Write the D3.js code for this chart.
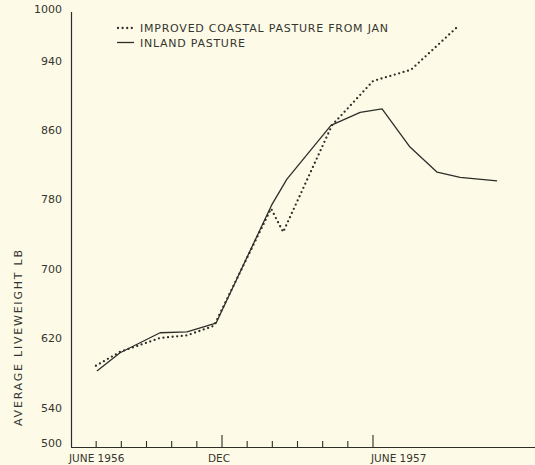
<!DOCTYPE html>
<html>
<head>
<meta charset="utf-8">
<script src="https://cdn.jsdelivr.net/npm/d3@7"></script>
<style>
  html, body { margin: 0; padding: 0; background: #fdfbe7; }
  svg { display: block; }
  text { font-family: "DejaVu Sans", sans-serif; fill: #353530; }
</style>
</head>
<body>
<svg id="chart" width="535" height="465"></svg>
<script>
// ---- data (months since June 1956, average liveweight lb) ----
const inlandMonths  = [1.03, 1.95, 3.54, 4.61, 5.76, 7.97, 8.58, 10.33, 11.49, 12.36, 13.47, 14.55, 15.46, 16.93];
const inlandWeights = [583, 604, 627, 628, 638, 774, 804, 866, 881, 885, 841, 812, 806, 802];
const coastalMonths  = [0.99, 1.95, 3.54, 4.61, 5.68, 7.95, 8.43, 10.37, 12.0, 13.51, 15.34];
const coastalWeights = [589, 605, 621, 624, 635, 770, 743, 866, 917, 930, 979];
const yTickValues = [500, 540, 620, 700, 780, 860, 940, 1000];
const xTickMonths = [1, 2, 3, 4, 5, 6, 7, 8, 9, 10, 11, 12];
const majorTickMonths = [6, 12];
const xLabelMonths = [0, 6, 12];
const xLabelTexts = ["JUNE 1956", "DEC", "JUNE 1957"];
const seriesNames = ["IMPROVED COASTAL PASTURE FROM JAN", "INLAND PASTURE"];
const yTitle = "AVERAGE LIVEWEIGHT LB";

const ink = "#2d2d2a";
const svg = d3.select("#chart");

const x = d3.scaleLinear().domain([0, 18]).range([71, 524]);
const y = d3.scaleLinear().domain([500, 1000]).range([443, 9]);
const baseY = 447;

// y axis line
svg.append("line").attr("x1", 71.5).attr("x2", 71.5).attr("y1", 12).attr("y2", baseY)
  .attr("stroke", ink).attr("stroke-width", 1.2);
// x axis line
svg.append("line").attr("x1", 71).attr("x2", 535).attr("y1", baseY + 0.5).attr("y2", baseY + 0.5)
  .attr("stroke", ink).attr("stroke-width", 1.2);

// y tick labels
svg.append("g").selectAll("text").data(yTickValues).join("text")
  .attr("x", 62).attr("y", d => y(d))
  .attr("text-anchor", "end").attr("dominant-baseline", "central")
  .attr("font-size", 11).text(d => d);

// x ticks
svg.append("g").selectAll("line").data(xTickMonths).join("line")
  .attr("x1", d => x(d)).attr("x2", d => x(d))
  .attr("y1", baseY).attr("y2", d => majorTickMonths.includes(d) ? baseY - 12 : baseY - 6)
  .attr("stroke", ink).attr("stroke-width", 1.1);

// x labels
svg.append("g").selectAll("text").data(xLabelMonths).join("text")
  .attr("x", (d, i) => i === 1 ? x(d) - 3 : x(d) - 2)
  .attr("y", 462)
  .attr("text-anchor", (d, i) => i === 1 ? "middle" : "start")
  .attr("font-size", 10.5)
  .text((d, i) => xLabelTexts[i]);

// y title
svg.append("text")
  .attr("transform", "translate(22,338) rotate(-90)")
  .attr("text-anchor", "middle")
  .attr("font-size", 11)
  .attr("textLength", 176).attr("lengthAdjust", "spacing")
  .text(yTitle);

// lines
const line = d3.line().x(d => x(d[0])).y(d => y(d[1]));
const inland = inlandMonths.map((m, i) => [m, inlandWeights[i]]);
const coastal = coastalMonths.map((m, i) => [m, coastalWeights[i]]);

svg.append("path").datum(inland).attr("d", line)
  .attr("fill", "none").attr("stroke", ink).attr("stroke-width", 1.3)
  .attr("stroke-linejoin", "round");
svg.append("path").datum(coastal).attr("d", line)
  .attr("fill", "none").attr("stroke", ink).attr("stroke-width", 2.3)
  .attr("stroke-linecap", "round").attr("stroke-dasharray", "0 4.6");

// legend
svg.append("line").attr("x1", 118).attr("x2", 134).attr("y1", 28).attr("y2", 28)
  .attr("stroke", ink).attr("stroke-width", 2.3).attr("stroke-linecap", "round")
  .attr("stroke-dasharray", "0 4.6");
svg.append("line").attr("x1", 117).attr("x2", 134).attr("y1", 42.5).attr("y2", 42.5)
  .attr("stroke", ink).attr("stroke-width", 1.3);
svg.append("text").attr("x", 140).attr("y", 28).attr("dominant-baseline", "central")
  .attr("font-size", 11).attr("textLength", 248).attr("lengthAdjust", "spacing")
  .text(seriesNames[0]);
svg.append("text").attr("x", 140).attr("y", 43).attr("dominant-baseline", "central")
  .attr("font-size", 11).attr("textLength", 105).attr("lengthAdjust", "spacing")
  .text(seriesNames[1]);
</script>
</body>
</html>
